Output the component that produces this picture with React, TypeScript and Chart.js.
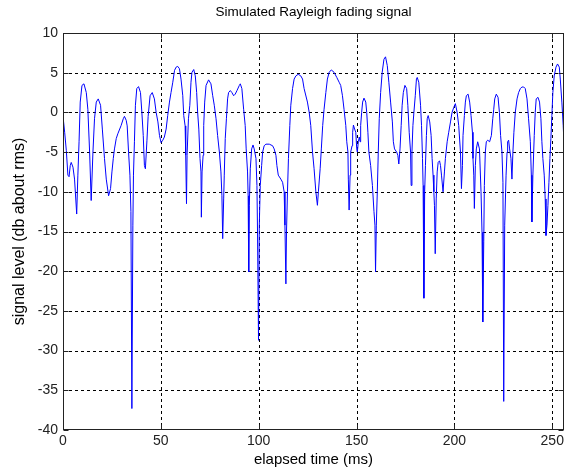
import React, { useEffect, useRef } from 'react';
import { Chart, registerables } from 'chart.js';

Chart.register(...registerables);

// elapsed time (ms) of each read-off point
const TIME_MS = [
  0, 0.85, 1.7, 2.5, 3.1, 3.7, 4.2, 5.1, 5.9, 7.0, 7.6, 8.2, 8.8, 9.7, 10.7, 11.9, 12.7, 13.6, 14.4, 15.3,
  16.1, 17.0, 18.0, 19.2, 20.1, 21.2, 22.1, 23.3, 24.3, 25.0, 25.7, 26.3, 27.2, 28.0, 29.7, 30.8, 31.4, 32.3, 32.8, 33.5,
  34.2, 34.7, 35.2, 35.7, 36.0, 36.5, 37.0, 37.7, 38.6, 39.6, 40.3, 41.0, 41.6, 42.1, 42.9, 43.5, 44.5, 45.6, 46.7, 47.6,
  48.5, 49.3, 50.1, 51.0, 51.8, 52.7, 53.5, 54.4, 55.2, 56.1, 57.0, 57.8, 58.6, 59.5, 60.3, 61.2, 61.7, 62.4, 62.7, 63.1,
  63.4, 64.1, 64.8, 65.4, 65.9, 66.8, 67.6, 68.3, 68.8, 69.4, 70.0, 70.5, 70.7, 71.05, 71.6, 71.9, 72.4, 73.1, 74.4, 75.6,
  76.5, 77.3, 78.2, 79.0, 79.9, 80.7, 81.2, 81.6, 82.1, 82.4, 82.9, 83.5, 84.1, 84.6, 85.5, 86.3, 87.2, 88.0, 88.9, 90.1,
  90.6, 91.4, 92.3, 93.1, 93.6, 94.3, 94.6, 94.9, 95.2, 95.7, 96.4, 97.1, 97.7, 98.6, 99.1, 99.4, 99.9, 100.3, 100.8, 101.5,
  102.0, 102.8, 103.7, 105.4, 107.1, 107.9, 108.8, 109.3, 110.0, 111.3, 112.2, 113.0, 113.4, 113.9, 114.2, 114.7, 115.2, 115.9, 116.4, 117.3,
  118.1, 119.0, 120.2, 121.5, 122.4, 123.2, 124.9, 125.8, 126.6, 127.5, 128.3, 129.2, 130.0, 130.5, 131.4, 132.0, 132.7, 133.4, 134.3, 135.1,
  136.0, 137.1, 138.5, 139.9, 141.1, 141.9, 142.8, 143.6, 144.5, 145.0, 145.6, 145.8, 146.2, 146.7, 147.0, 147.7, 148.0, 148.4, 149.0, 149.6,
  150.1, 150.4, 150.9, 151.4, 151.8, 152.1, 152.6, 153.1, 153.8, 154.7, 155.2, 155.8, 156.3, 157.2, 158.1, 158.9, 159.4, 159.7, 160.1, 160.6,
  161.1, 161.6, 162.3, 163.1, 164.0, 164.8, 165.7, 166.5, 167.4, 168.3, 168.8, 169.4, 170.5, 171.1, 171.6, 172.2, 172.8, 173.3, 173.9, 174.7,
  175.6, 176.2, 176.9, 177.6, 177.9, 178.3, 178.8, 179.3, 180.0, 180.6, 181.0, 181.8, 182.7, 183.2, 183.7, 184.0, 184.4, 184.8, 185.2, 185.7,
  186.1, 186.6, 187.4, 188.1, 188.6, 189.1, 189.5, 189.8, 190.2, 190.7, 191.2, 191.7, 192.4, 192.9, 193.4, 194.2, 194.9, 195.4, 196.3, 197.1,
  198.0, 198.8, 199.7, 200.5, 201.4, 202.2, 203.1, 203.6, 204.1, 204.4, 205.1, 205.6, 206.1, 207.0, 207.8, 208.5, 209.2, 209.5, 209.9, 210.2,
  210.7, 211.2, 211.9, 212.8, 213.6, 214.1, 214.5, 215.0, 215.3, 215.8, 216.3, 217.0, 218.0, 218.9, 219.6, 220.1, 220.6, 221.4, 222.3, 223.0,
  223.6, 224.3, 224.8, 225.2, 225.7, 226.4, 226.9, 227.2, 227.7, 228.2, 228.9, 229.4, 229.9, 230.4, 231.1, 232.0, 232.8, 233.7, 234.5, 235.4,
  236.2, 237.1, 237.9, 238.8, 239.3, 239.6, 240.1, 240.8, 241.3, 241.8, 242.7, 243.5, 244.2, 244.7, 245.2, 245.9, 246.4, 246.8, 247.3, 247.8,
  248.3, 248.8, 249.3, 249.8, 250.3, 251.0, 251.9, 252.7, 253.6, 254.1, 254.9, 255.6, 256,
];

// signal level (dB about rms) at each time above
const LEVEL_DB = [
  -0.5, -2.5, -4.8, -7.9, -8.1, -6.7, -6.3, -6.9, -8.4, -12.8, -7.9, -3.7, 1.3, 3.4, 3.6, 2.5, 0.4, -5, -11.1, -5,
  -0.8, 1.3, 1.7, 0.9, -2.1, -5.8, -8.4, -10.5, -9.6, -7.5, -5.8, -4.6, -3.3, -2.7, -1.65, -0.8, -0.5, -1, -1.7, -5,
  -7.9, -12.5, -37.3, -14.2, -7.9, -3.7, 0.9, 3, 3.25, 2.5, 0, -2.9, -6.7, -7.1, -3.5, -0.5, 2.1, 2.5, 1.7, 0,
  -1.2, -2.9, -3.8, -3.5, -3.1, -2.1, -0.4, 1.3, 2.5, 3.8, 5.3, 5.7, 5.8, 5.5, 4.2, 2.1, -0.4, -1.7, -5.4, -11.5,
  -5.4, -0.8, 0.9, 3.8, 5.05, 5.4, 4.6, 2.5, 0, -2.1, -5.8, -7.5, -13.2, -7.5, -5.4, -1.65, 1.3, 3.4, 4.1, 3.6,
  2.1, 0.9, -0.8, -2.9, -5, -7.5, -10.5, -15.9, -10.9, -7.9, -3.3, -0.8, 1.7, 2.5, 2.75, 2.5, 2.1, 2.3, 2.75, 3.4,
  3.6, 3.0, 0.4, -1.65, -4.6, -7.5, -10.5, -20.1, -11.7, -7.1, -4.6, -4.1, -4.6, -5.8, -9.2, -15.1, -28.7, -14.2, -9.2, -6.7,
  -5, -4.2, -4, -4, -4.2, -4.6, -5.4, -6.7, -7.9, -8.4, -8.8, -10, -14.2, -21.6, -15.1, -10, -5.8, -1.65, 0.9, 3.0,
  4.2, 4.6, 4.8, 4.6, 4.2, 3.0, 1.3, 0, -1.65, -5, -7.1, -10, -11.7, -10, -7.1, -4.6, -1.65, 0.4, 2.5, 4.2,
  5.05, 5.35, 5.05, 4.4, 3.8, 3.4, 2.1, 0.4, -1.65, -3.7, -5, -8.4, -12.3, -7.9, -5, -4.2, -2.5, -1.6, -2.1, -2.5,
  -4.6, -5, -3.7, -3.1, -3.7, -1.65, 0, 1.3, 1.8, 1.3, 0, -2.5, -5, -6.7, -9.2, -12.5, -14.2, -20.1, -14.2, -10,
  -5, -0.8, 2.5, 5.05, 6.7, 7.0, 5.9, 3.8, 1.3, -1.2, -3.7, -4.6, -5, -5.4, -6.5, -4.6, -1.65, 0.9, 2.5, 3.4,
  3.0, 0.9, -2.5, -5, -9.2, -5, -1.65, 0, 2.1, 4.2, 4.4, 3.8, 0.9, -1.65, -5.8, -9.2, -23.4, -10, -6.7, -2.9,
  -0.8, -0.4, -1.2, -2.9, -5.8, -7.9, -10, -11.7, -17.8, -10.9, -7.5, -6.3, -6.1, -6.7, -7.9, -10, -7.5, -5.8, -3.7, -2.5,
  -1.2, 0, 0.65, 1.1, 0, -1.65, -5, -9.6, -6.7, -2.9, -0.4, 1.3, 2.1, 2.3, 1.3, -0.4, -2.5, -5.8, -7.9, -12.1,
  -6.7, -4.6, -3.7, -4.6, -10, -15.1, -26.4, -16.3, -9.2, -5, -3.7, -3.5, -3.7, -2.9, -0.8, 0.4, 1.7, 2.3, 1.9, 0,
  -2.9, -5, -8.8, -36.4, -14.2, -7.9, -5, -3.7, -3.5, -4.6, -5.8, -8.4, -5, -2.5, 0, 1.7, 2.5, 3.0, 3.2, 3.2,
  3.0, 1.7, -0.8, -3.7, -7.9, -13.8, -7.9, -2.9, 0, 1.7, 1.9, 1.3, -0.8, -3.7, -5.8, -7.9, -10.9, -15.5, -14.2, -11.7,
  -8.8, -5.8, -3.3, -0.4, 2.5, 4.6, 5.7, 6.1, 5.7, 4.2, 1.3, -1.65, -4,
];

const X_TICKS = [0, 50, 100, 150, 200, 250];
const Y_TICKS = [10, 5, 0, -5, -10, -15, -20, -25, -30, -35, -40];
const X_MIN = 0;
const X_MAX = 256;
const Y_MIN = -40;
const Y_MAX = 10;

const TITLE = 'Simulated Rayleigh fading signal';
const X_LABEL = 'elapsed time (ms)';
const Y_LABEL = 'signal level (db about rms)';

const FONT = 'Arial, "Liberation Sans", sans-serif';

const framePlugin = {
  id: 'matlabFrame',
  beforeDatasetsDraw(chart: any) {
    const { ctx, chartArea: a, scales } = chart;
    const x = scales.x;
    const y = scales.y;
    ctx.save();
    ctx.strokeStyle = '#000';
    ctx.lineWidth = 1;
    ctx.setLineDash([3, 3]);
    for (const v of X_TICKS) {
      if (v === X_MIN || v === X_MAX) continue;
      const px = Math.round(x.getPixelForValue(v)) + 0.5;
      ctx.beginPath();
      ctx.moveTo(px, a.top);
      ctx.lineTo(px, a.bottom);
      ctx.stroke();
    }
    for (const v of Y_TICKS) {
      if (v === Y_MIN || v === Y_MAX) continue;
      const py = Math.round(y.getPixelForValue(v)) + 0.5;
      ctx.beginPath();
      ctx.moveTo(a.left, py);
      ctx.lineTo(a.right, py);
      ctx.stroke();
    }
    ctx.restore();
  },
  afterDatasetsDraw(chart: any) {
    const { ctx, chartArea: a, scales } = chart;
    const x = scales.x;
    const y = scales.y;
    const L = Math.round(a.left) + 0.5;
    const R = Math.round(a.right) - 0.5;
    const T = Math.round(a.top) + 0.5;
    const B = Math.round(a.bottom) - 0.5;
    ctx.save();
    ctx.strokeStyle = '#222';
    ctx.lineWidth = 1;
    ctx.setLineDash([]);
    ctx.strokeRect(L, T, R - L, B - T);
    const tl = 5;
    ctx.beginPath();
    for (const v of X_TICKS) {
      const px = Math.round(x.getPixelForValue(v)) + 0.5;
      ctx.moveTo(px, B);
      ctx.lineTo(px, B - tl);
      ctx.moveTo(px, T);
      ctx.lineTo(px, T + tl);
    }
    for (const v of Y_TICKS) {
      const py = Math.round(y.getPixelForValue(v)) + 0.5;
      ctx.moveTo(L, py);
      ctx.lineTo(L + tl, py);
      ctx.moveTo(R, py);
      ctx.lineTo(R - tl, py);
    }
    ctx.stroke();
    // title
    ctx.fillStyle = '#000';
    ctx.font = `13.5px ${FONT}`;
    ctx.textAlign = 'center';
    ctx.textBaseline = 'middle';
    ctx.fillText(TITLE, (a.left + a.right) / 2, 12);
    ctx.restore();
  },
};

export default function App() {
  const ref = useRef<HTMLCanvasElement>(null);

  useEffect(() => {
    if (!ref.current) return;
    const points = TIME_MS.map((t, i) => ({ x: t, y: LEVEL_DB[i] }));
    const chart = new Chart(ref.current, {
      type: 'line',
      data: {
        datasets: [
          {
            data: points,
            borderColor: '#0000ff',
            borderWidth: 1,
            pointRadius: 0,
            tension: 0,
            fill: false,
          },
        ],
      },
      options: {
        responsive: false,
        animation: false,
        devicePixelRatio: 1,
        layout: { padding: { top: 33, right: 4, left: 0, bottom: 0 } },
        plugins: {
          legend: { display: false },
          title: { display: false },
          tooltip: { enabled: false },
        },
        scales: {
          x: {
            type: 'linear',
            min: X_MIN,
            max: X_MAX,
            afterBuildTicks: (s: any) => {
              s.ticks = X_TICKS.map((v) => ({ value: v }));
            },
            afterFit: (s: any) => {
              s.height = 41;
            },
            grid: { display: false, drawTicks: false },
            border: { display: false },
            ticks: {
              padding: 3,
              color: '#222',
              font: { family: FONT, size: 14 },
              maxRotation: 0,
              autoSkip: false,
            },
            title: {
              display: true,
              text: X_LABEL,
              color: '#000',
              font: { family: FONT, size: 15 },
              padding: { top: 0, bottom: 2 },
            },
          },
          y: {
            type: 'linear',
            min: Y_MIN,
            max: Y_MAX,
            afterBuildTicks: (s: any) => {
              s.ticks = Y_TICKS.map((v) => ({ value: v }));
            },
            afterFit: (s: any) => {
              s.width = 63;
            },
            grid: { display: false, drawTicks: false },
            border: { display: false },
            ticks: {
              padding: 5,
              color: '#222',
              font: { family: FONT, size: 14 },
              autoSkip: false,
            },
            title: {
              display: true,
              text: Y_LABEL,
              color: '#000',
              font: { family: FONT, size: 16 },
              padding: { top: 10, bottom: 0 },
            },
          },
        },
      },
      plugins: [framePlugin],
    } as any);
    return () => chart.destroy();
  }, []);

  return (
    <div style={{ position: 'absolute', left: 0, top: 0, width: 568, height: 471, background: '#fff' }}>
      <canvas ref={ref} width={568} height={471} style={{ display: 'block', width: 568, height: 471 }} />
    </div>
  );
}
